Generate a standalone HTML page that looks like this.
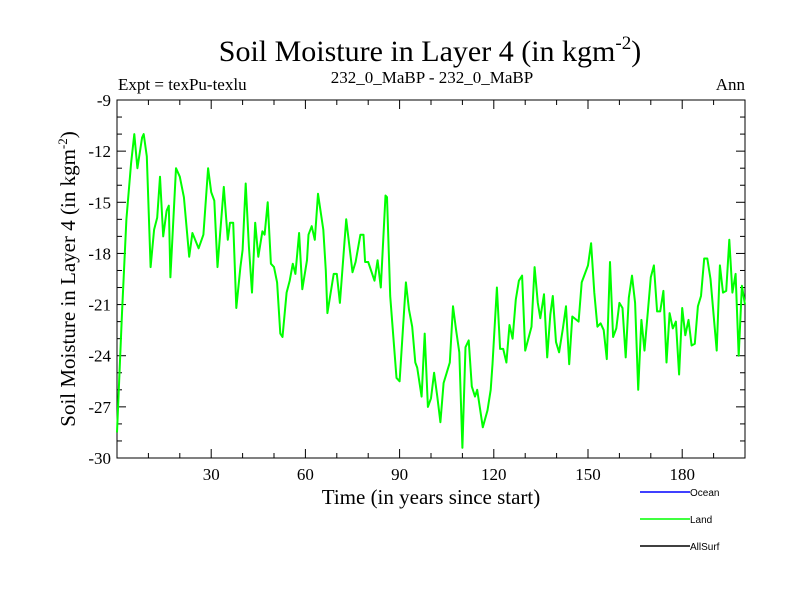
<!DOCTYPE html>
<html><head><meta charset="utf-8"><style>
body{margin:0;background:#fff;}
svg{display:block;font-family:"Liberation Serif",serif;}
</style></head><body>
<svg id="c" width="800" height="600">
<text x="430" y="61" font-size="30" text-anchor="middle">Soil Moisture in Layer 4 (in kgm<tspan dy="-12" font-size="19">-2</tspan><tspan dy="12">)</tspan></text>
<text x="118" y="90" font-size="17">Expt = texPu-texlu</text>
<text x="432" y="83" font-size="17" text-anchor="middle">232_0_MaBP - 232_0_MaBP</text>
<text x="745" y="90" font-size="17" text-anchor="end">Ann</text>
<text transform="translate(75,279) rotate(-90)" font-size="21" text-anchor="middle">Soil Moisture in Layer 4 (in kgm<tspan dy="-8" font-size="13">-2</tspan><tspan dy="8">)</tspan></text>
<text x="431" y="504" font-size="21" text-anchor="middle">Time (in years since start)</text>
<g id="axes"></g>
<g id="series"></g>
<g font-family="Liberation Sans, sans-serif" font-size="10">
<line x1="640" y1="492" x2="690" y2="492" stroke="#0000ff" stroke-width="1.5"/><text x="690" y="496">Ocean</text>
<line x1="640" y1="519" x2="690" y2="519" stroke="#00ff00" stroke-width="1.5"/><text x="690" y="523">Land</text>
<line x1="640" y1="546" x2="690" y2="546" stroke="#000" stroke-width="1.5"/><text x="690" y="550">AllSurf</text>
</g>
</svg>
<script>
const years=[0,1.6,3,4.5,5.5,6.5,8,8.5,9.5,10.7,11.8,12.8,13.7,14.7,15.8,16.5,17,18.8,20,21.3,23,24,26,27.5,29,30,31,32,34,35.3,36,37,38,39.3,40,41,42,43,44,45,46.3,47,48,49,50,51,52,52.7,54,55,56,56.8,58,59,60.5,61,62,63,64,65.7,66.5,67,69,70,71,73,75,76,77.5,78.5,79,80,82,83,84,85.5,86,87,89,90,92,93,94,95,95.6,97,98,99,100,101,102,103,104,105,106,107,108,109,110,111,112,113,114,114.7,116.5,118,119,119.6,121,122,123,124,125,126,127,128,129,130,132,133,134,134.8,136,137,138,138.8,139.8,140.8,142,143,144,145,147,148,150,151,152,153,154,155,156,157,158,159,160,161,162,163,164,165,166,167,168,170,171,172,173,174,175,176,177,178,179,180,181,182,183,184,185,186,187,188,189,191,192,193,194,195,196,197,198,199,200];
const values=[-28.5,-21.5,-16,-12.7,-11,-13,-11.2,-11,-12.3,-18.8,-16.6,-15.9,-13.5,-17,-15.5,-15.2,-19.4,-13,-13.5,-14.7,-18.2,-16.8,-17.7,-16.9,-13,-14.4,-14.9,-18.8,-14.1,-17.2,-16.2,-16.2,-21.2,-18.8,-17.8,-13.9,-17.6,-20.3,-16.2,-18.2,-16.7,-16.9,-15,-18.6,-18.8,-19.7,-22.7,-22.9,-20.3,-19.6,-18.6,-19.2,-16.8,-20.1,-18.4,-16.9,-16.4,-17.2,-14.5,-16.6,-19,-21.5,-19.2,-19.2,-20.9,-16,-19.1,-18.5,-16.9,-16.9,-18.5,-18.5,-19.6,-18.4,-20,-14.6,-14.7,-20.5,-25.3,-25.5,-19.7,-21.3,-22.3,-24.4,-24.7,-26.4,-22.7,-27,-26.5,-25,-26.4,-27.9,-25.6,-25,-24.4,-21.1,-22.5,-23.8,-29.4,-23.5,-23.1,-25.8,-26.4,-26,-28.2,-27.2,-26,-24.5,-20,-23.6,-23.6,-24.4,-22.2,-23,-20.7,-19.6,-19.3,-23.7,-22.3,-18.8,-20.9,-21.8,-20.4,-24.1,-21.6,-20.5,-23.2,-23.8,-22.4,-21.1,-24.5,-21.7,-22,-19.7,-18.7,-17.4,-20.3,-22.3,-22.1,-22.5,-24.2,-18.5,-22.9,-22.4,-20.9,-21.2,-24.1,-20.6,-19.3,-20.9,-26,-21.9,-23.7,-19.4,-18.7,-21.4,-21.4,-20.2,-24.4,-21.5,-22.4,-22,-25.1,-21.2,-22.8,-21.9,-23.4,-23.3,-21.1,-20.5,-18.3,-18.3,-19.5,-23.7,-18.7,-20.3,-20.2,-17.2,-20.3,-19.2,-24,-19.9,-21];
const xTicks=[30,60,90,120,150,180];
const yTicks=[-9,-12,-15,-18,-21,-24,-27,-30];
const X0=117,X1=745,Y0=100,Y1=458;
const xs=v=>X0+(v-0)/(200-0)*(X1-X0);
const ys=v=>Y0+(-9-v)/21*(Y1-Y0);
const NS='http://www.w3.org/2000/svg';
const ax=document.getElementById('axes');
function mk(t,a,p){const e=document.createElementNS(NS,t);for(const k in a)e.setAttribute(k,a[k]);(p||ax).appendChild(e);return e;}
const fr=mk('rect',{x:X0,y:Y0,width:X1-X0,height:Y1-Y0,fill:'none',stroke:'#000','stroke-width':1});


for(let v=-30;v<=-9;v++){const y=ys(v);const maj=yTicks.includes(v);const L=maj?9:5;
mk('line',{x1:X0,y1:y,x2:X0+L,y2:y,stroke:'#000'});mk('line',{x1:X1,y1:y,x2:X1-L,y2:y,stroke:'#000'});
if(maj){const t=mk('text',{x:X0-6,y:y+6,'font-size':17,'text-anchor':'end'});t.textContent=v;

}}
for(let v=10;v<200;v+=10){const x=xs(v);const maj=xTicks.includes(v);const L=maj?9:5;
mk('line',{x1:x,y1:Y1,x2:x,y2:Y1-L,stroke:'#000'});mk('line',{x1:x,y1:Y0,x2:x,y2:Y0+L,stroke:'#000'});
if(maj){const t=mk('text',{x:x,y:Y1+22,'font-size':17,'text-anchor':'middle'});t.textContent=v;

}}
const pts=years.map((y,i)=>xs(y).toFixed(1)+','+ys(values[i]).toFixed(1)).join(' ');
const pl=mk('polyline',{points:pts,fill:'none',stroke:'#00ff00','stroke-width':2,'stroke-linejoin':'round'},document.getElementById('series'));


</script>
</body></html>
